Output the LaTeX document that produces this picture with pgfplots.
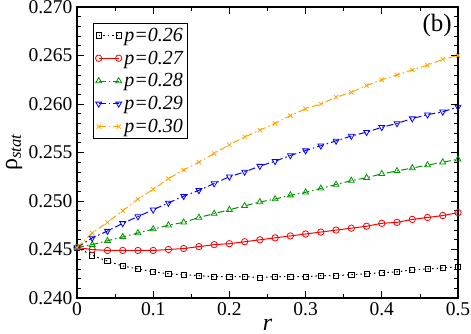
\documentclass[border=0pt]{standalone}
\usepackage{pgfplots}
\pgfplotsset{compat=1.18}
\usepackage{pgfplotstable}
\usepackage{fontspec}
\setmainfont{Liberation Serif}
\definecolor{gorange}{RGB}{255,165,0}
\definecolor{ggreen}{RGB}{0,150,0}
\pgfplotstableread{
r p26 p27 p28 p29 p30
0.00 0.2452 0.2452 0.2452 0.2452 0.2452
0.02 0.2444 0.2450 0.2455 0.2462 0.2467
0.04 0.2438 0.2449 0.2459 0.2469 0.2478
0.06 0.2433 0.2449 0.2463 0.2477 0.2490
0.08 0.2430 0.2449 0.2467 0.2484 0.2502
0.10 0.2427 0.2449 0.2471 0.2491 0.2512
0.12 0.2425 0.2450 0.2475 0.2498 0.2523
0.14 0.2424 0.2451 0.2478 0.2505 0.2532
0.16 0.2423 0.2453 0.2483 0.2511 0.2540
0.18 0.2422 0.2455 0.2487 0.2518 0.2549
0.20 0.2422 0.2456 0.2491 0.2525 0.2558
0.22 0.2422 0.2458 0.2495 0.2530 0.2566
0.24 0.2421 0.2460 0.2499 0.2536 0.2573
0.26 0.2422 0.2462 0.2502 0.2541 0.2580
0.28 0.2422 0.2464 0.2506 0.2547 0.2588
0.30 0.2422 0.2466 0.2509 0.2552 0.2595
0.32 0.2423 0.2468 0.2513 0.2557 0.2600
0.34 0.2423 0.2470 0.2517 0.2562 0.2607
0.36 0.2424 0.2472 0.2521 0.2567 0.2612
0.38 0.2425 0.2474 0.2524 0.2571 0.2619
0.40 0.2426 0.2477 0.2528 0.2576 0.2625
0.42 0.2427 0.2478 0.2531 0.2580 0.2630
0.44 0.2429 0.2481 0.2534 0.2585 0.2635
0.46 0.2430 0.2483 0.2537 0.2589 0.2640
0.48 0.2431 0.2485 0.2540 0.2592 0.2646
0.50 0.2432 0.2488 0.2543 0.2597 0.2650
}\datatable
\begin{document}
\begin{tikzpicture}
\useasboundingbox (-77pt,-35pt) rectangle (394pt,298pt);
\begin{axis}[
  at={(0pt,0pt)}, anchor=south west,
  scale only axis, width=381pt, height=291pt,
  xmin=0, xmax=0.5, ymin=0.24, ymax=0.27,
  xtick={0,0.1,0.2,0.3,0.4,0.5},
  ytick={0.24,0.245,0.25,0.255,0.26,0.265,0.27},
  minor x tick num=1, minor y tick num=4,
  tick align=inside, major tick length=7pt, minor tick length=4pt,
  tick style={black, line width=0.8pt},
  axis line style={line width=1.1pt},
  scaled y ticks=false, scaled x ticks=false,
  /pgf/number format/assume math mode=true,
  tick label style={font=\fontsize{19.5}{22}\selectfont},
  yticklabel style={xshift=-1pt, /pgf/number format/.cd, fixed, fixed zerofill, precision=3},
  xticklabel style={yshift=-1pt, /pgf/number format/.cd, fixed},
  xlabel={\itshape r},
  ylabel={ρ\textsubscript{\itshape stat}},
  label style={font=\fontsize{24}{26}\selectfont},
  xlabel style={at={(axis description cs:0.5,-0.072)}, anchor=north, inner sep=0pt},
  ylabel style={at={(axis description cs:-0.165,0.5)}, anchor=center, inner sep=0pt},
  clip=false,
  legend cell align=left,
  legend style={at={(rel axis cs:0.042,0.945)}, anchor=north west, draw=black, line width=1pt,
    font=\fontsize{20}{22}\selectfont, row sep=3pt, inner sep=2pt,
    nodes={inner sep=2.5pt}},
  legend image code/.code={\draw plot coordinates {(0pt,0pt) (20pt,0pt)};},
]
\addplot[black, line width=1pt, dash pattern=on 1.5pt off 3pt, mark=square, mark size=2.6pt, mark options={solid, line width=0.8pt}] table[x=r, y=p26] {\datatable};
\addlegendentry{\itshape p=0.26}
\addplot[red, line width=1pt, mark=o, mark size=3.2pt, mark options={solid, line width=0.8pt}] table[x=r, y=p27] {\datatable};
\addlegendentry{\itshape p=0.27}
\addplot[ggreen, line width=1pt, dash pattern=on 7pt off 3pt on 1.5pt off 3pt, mark=triangle, mark size=3.4pt, mark options={solid, line width=0.8pt}] table[x=r, y=p28] {\datatable};
\addlegendentry{\itshape p=0.28}
\addplot[blue, line width=1pt, dash pattern=on 7pt off 3pt on 1.5pt off 3pt, mark=triangle, mark size=3.4pt, mark options={solid, rotate=180, line width=0.8pt}] table[x=r, y=p29] {\datatable};
\addlegendentry{\itshape p=0.29}
\addplot[gorange, line width=1pt, dash pattern=on 7pt off 3pt on 1.5pt off 3pt, mark=x, mark size=3pt, mark options={solid, line width=0.8pt}] table[x=r, y=p30] {\datatable};
\addlegendentry{\itshape p=0.30}
\node[anchor=north east, font=\fontsize{25}{27}\selectfont, inner sep=0pt] at ([xshift=-6pt,yshift=-7pt]rel axis cs:1,1) {(b)};
\end{axis}
\end{tikzpicture}
\end{document}
